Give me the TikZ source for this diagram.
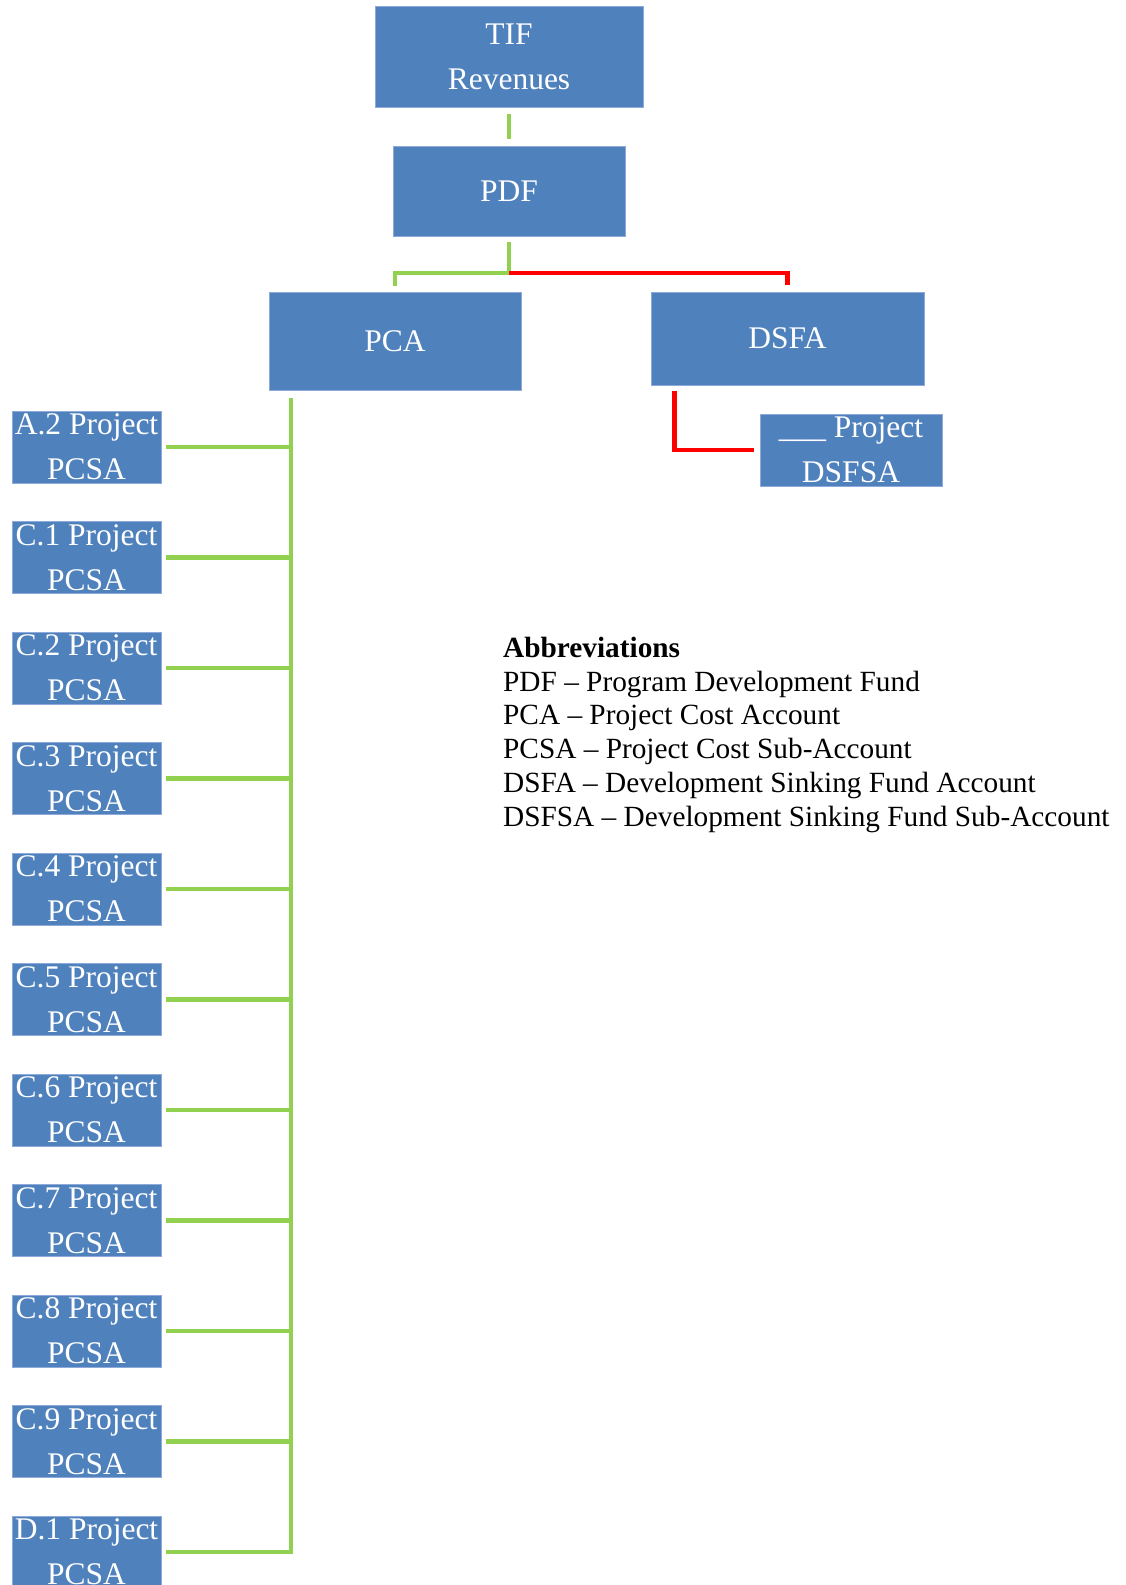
\documentclass[tikz,border=0pt]{standalone}
\usepackage{fontspec}
\setmainfont{Liberation Serif}
\definecolor{boxblue}{HTML}{4F81BD}
\definecolor{boxedge}{HTML}{8EAADB}
\definecolor{lgreen}{HTML}{92D050}
\definecolor{lred}{HTML}{FF0000}
\begin{document}
\begin{tikzpicture}[x=1pt,y=-1pt,
  acct/.style={fill=boxblue,draw=boxedge,line width=1pt,text=white,inner sep=0pt,align=center,
    font=\fontsize{31.5}{45}\selectfont},
  sub/.style={acct,minimum width=149pt,minimum height=72pt},
  gl/.style={draw=lgreen,line width=4.5pt},
  rl/.style={draw=lred,line width=4.5pt}]
\useasboundingbox (0,0) rectangle (1125,1585);
\node[acct,minimum width=268pt,minimum height=101pt] (tif) at (509,56.5) {TIF\\Revenues};
\node[acct,minimum width=232pt,minimum height=90pt] (pdf) at (509,191) {PDF};
\node[acct,minimum width=252pt,minimum height=98pt] (pca) at (395,341) {PCA};
\node[acct,minimum width=273pt,minimum height=93pt] (dsfa) at (787.5,338.5) {DSFA};
\node[acct,minimum width=182pt,minimum height=72pt] (dsfsa) at (851,450) {\_\_\_ Project\\DSFSA};
\foreach \n/\t [count=\k from 0] in {a2/A.2,c1/C.1,c2/C.2,c3/C.3,c4/C.4,c5/C.5,c6/C.6,c7/C.7,c8/C.8,c9/C.9,d1/D.1}{
  \node[sub] (\n) at (86.5,447+110.5*\k) {\t{} Project\\PCSA};
}
\coordinate (j) at (509,273);
\coordinate (trunk) at (291,0);
\draw[gl] ([yshift=-6pt]tif.south) -- ([yshift=7pt]pdf.north);
\draw[gl] ([yshift=-5pt]pdf.south) -- (j) -| ([yshift=6pt]pca.north);
\draw[rl] (j) -| ([yshift=7pt]dsfa.north);
\draw[rl] ([xshift=24pt,yshift=-5pt]dsfa.south west) |- ([xshift=-6pt]dsfsa.west);
\draw[gl] ([xshift=-104pt,yshift=-7pt]pca.south) |- ([xshift=4pt]d1.east);
\foreach \n in {a2,c1,c2,c3,c4,c5,c6,c7,c8,c9}{
  \draw[gl] ([xshift=4pt]\n.east) -- ([xshift=2pt]\n.east -| trunk);
}
\node[anchor=north west,inner sep=0pt,align=left,font=\fontsize{29.3}{33.7}\selectfont] (abbr) at (503,637)
 {\textbf{Abbreviations}\\
  PDF -- Program Development Fund\\
  PCA -- Project Cost Account\\
  PCSA -- Project Cost Sub-Account\\
  DSFA -- Development Sinking Fund Account\\
  DSFSA -- Development Sinking Fund Sub-Account};
\end{tikzpicture}
\end{document}
